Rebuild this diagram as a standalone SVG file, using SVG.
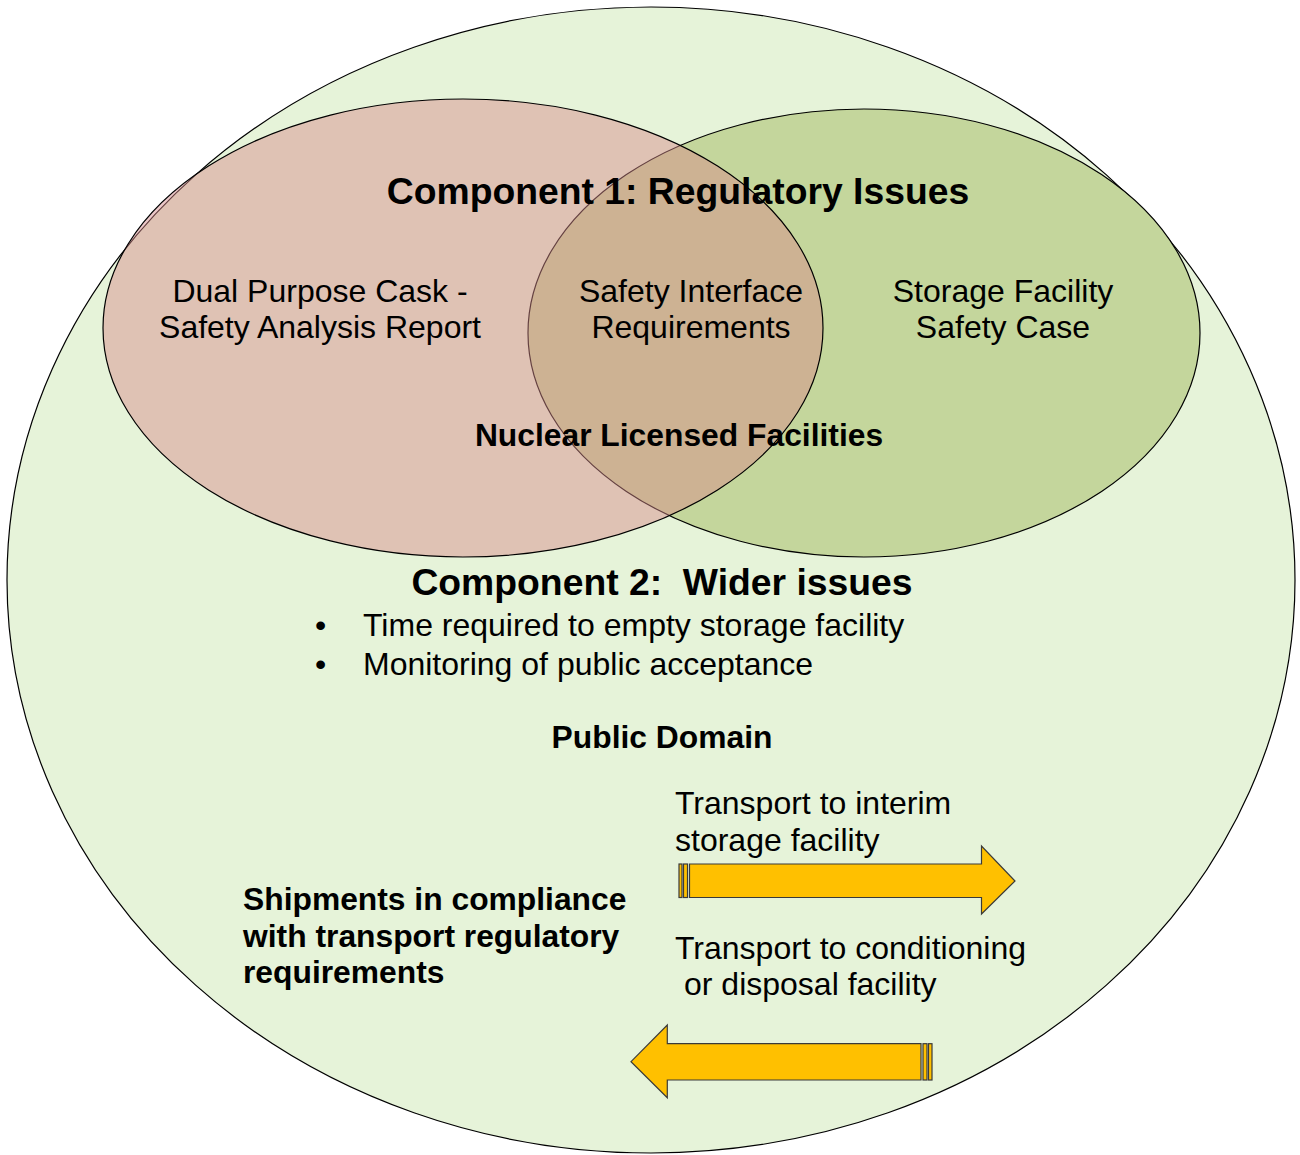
<svg xmlns="http://www.w3.org/2000/svg" width="1300" height="1155" viewBox="0 0 1300 1155">
<style>
.t{font-family:"Liberation Sans",Arial,sans-serif;fill:#000}
.r{font-size:32px}
.b{font-size:31.8px;font-weight:bold}
.h{font-size:37.3px;font-weight:bold}
.arr{fill:#ffc000;stroke:#3a3a3a;stroke-width:1.2}
</style>
<rect width="1300" height="1155" fill="#ffffff"/>
<g id="public-domain">
<ellipse cx="651" cy="580" rx="644" ry="573" fill="#e6f3d9" stroke="#000" stroke-width="1.2"/>
</g>
<g id="storage-facility">
<ellipse cx="864" cy="333" rx="336" ry="224" fill="#c4d69c" stroke="#000" stroke-width="1.2"/>
</g>
<g id="dual-purpose-cask">
<ellipse cx="463" cy="328" rx="360" ry="229" fill="#d78b8a" fill-opacity="0.47" stroke="#000" stroke-width="1.2"/>
</g>
<g id="labels">
<text class="t h" x="678" y="204" text-anchor="middle">Component 1: Regulatory Issues</text>
<text class="t r" x="320" y="302" text-anchor="middle">Dual Purpose Cask -</text>
<text class="t r" x="320" y="338" text-anchor="middle">Safety Analysis Report</text>
<text class="t r" x="691" y="302" text-anchor="middle">Safety Interface</text>
<text class="t r" x="691" y="338" text-anchor="middle">Requirements</text>
<text class="t r" x="1003" y="302" text-anchor="middle">Storage Facility</text>
<text class="t r" x="1003" y="338" text-anchor="middle">Safety Case</text>
<text class="t b" x="679" y="446" text-anchor="middle">Nuclear Licensed Facilities</text>
<text class="t h" x="662" y="595" text-anchor="middle" xml:space="preserve">Component 2:  Wider issues</text>
<text class="t r" x="315" y="636">•</text>
<text class="t r" x="363" y="636">Time required to empty storage facility</text>
<text class="t r" x="315" y="675">•</text>
<text class="t r" x="363" y="675">Monitoring of public acceptance</text>
<text class="t b" x="662" y="748" text-anchor="middle">Public Domain</text>
<text class="t r" x="675" y="814">Transport to interim</text>
<text class="t r" x="675" y="851">storage facility</text>
<text class="t b" x="243" y="910">Shipments in compliance</text>
<text class="t b" x="243" y="947">with transport regulatory</text>
<text class="t b" x="243" y="983">requirements</text>
<text class="t r" x="675" y="959">Transport to conditioning</text>
<text class="t r" x="684" y="995">or disposal facility</text>
</g>
<g id="connectors">
<g id="arrow-interim">
<rect class="arr" x="679" y="864" width="3" height="33.5"/>
<rect class="arr" x="683.5" y="864" width="4" height="33.5"/>
<polygon class="arr" points="689.5,864 981.5,864 981.5,846 1015,881 981.5,914 981.5,897.5 689.5,897.5"/>
</g>
<g id="arrow-disposal">
<rect class="arr" x="928.5" y="1043.7" width="3.5" height="36.3"/>
<rect class="arr" x="923" y="1043.7" width="4" height="36.3"/>
<polygon class="arr" points="921,1043.7 667.3,1043.7 667.3,1025 631,1061.7 667.3,1097.7 667.3,1080 921,1080"/>
</g>
</g>
</svg>
